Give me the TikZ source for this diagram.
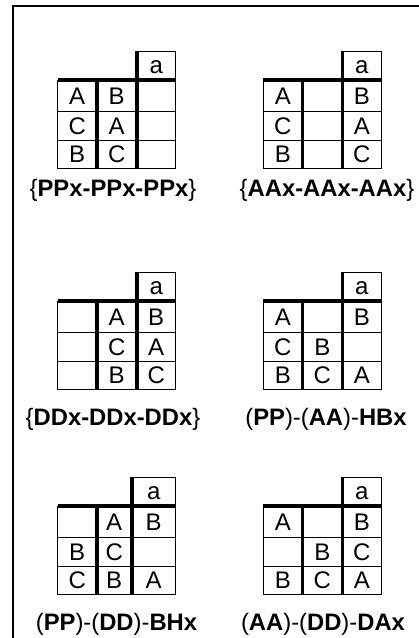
\documentclass[tikz,border=0pt]{standalone}
\usepackage{fontspec}
\setmainfont{Liberation Sans}
\tikzset{
  thinln/.style={line width=1pt},
  thickln/.style={line width=3.6pt},
  cell/.style={anchor=base,inner sep=0pt,font=\fontsize{24}{28}\selectfont},
  lab/.style={anchor=base,inner sep=0pt,font=\fontsize{23.8}{28}\selectfont},
}
% #1 name, #2 x0, #3 y0, #4 col2/col3 boundary offset, #5 list row/col/text
\newcommand\drawtab[5]{%
  \begin{scope}[shift={(#2,#3)}]
    \draw[thinln] (#4,0) rectangle (118,29);
    \draw[thinln] (0,29) rectangle (118,117.5);
    \draw[thinln] (0,60) -- (118,60) (0,89) -- (118,89);
    \draw[thickln] (0,29) -- (118,29);
    \draw[thickln] (39,29) -- (39,117.5);
    \draw[thickln] (#4,0) -- (#4,117.5);
    \node[cell] (#1-a) at ({(#4+118)/2},22.6) {a};
    \foreach \r/\c/\t in {#5}{
      \pgfmathsetmacro{\cx}{\c==1 ? 19.5 : (\c==2 ? (39+#4)/2 : (#4+118)/2)}
      \pgfmathsetmacro{\cy}{\r==1 ? 44.5 : (\r==2 ? 74.5 : 103.25)}
      \node[cell] (#1-\r-\c) at (\cx,\cy+8.6) {\t};
    }
  \end{scope}}
\begin{document}
\begin{tikzpicture}[x=1pt,y=-1pt]
\useasboundingbox (0,0) rectangle (419,638);
\draw[line width=2pt] (13,638) -- (13,5.5) -- (419,5.5);
% row 1
\drawtab{t1}{57.7}{51}{79}{1/1/A,1/2/B,2/1/C,2/2/A,3/1/B,3/2/C}
\drawtab{t2}{263.3}{51}{79}{1/1/A,1/3/B,2/1/C,2/3/A,3/1/B,3/3/C}
\node[lab] (l1) at (113,196.5) {\{\textbf{PPx-PPx-PPx}\}};
\node[lab] (l2) at (327,196.5) {\{\textbf{AAx-AAx-AAx}\}};
% row 2
\drawtab{t3}{57.7}{272}{79}{1/2/A,1/3/B,2/2/C,2/3/A,3/2/B,3/3/C}
\drawtab{t4}{263.3}{272}{79}{1/1/A,1/3/B,2/1/C,2/2/B,3/1/B,3/2/C,3/3/A}
\node[lab] (l3) at (113,425) {\{\textbf{DDx-DDx-DDx}\}};
\node[lab] (l4) at (326,425) {(\textbf{PP})-(\textbf{AA})-\textbf{HBx}};
% row 3
\drawtab{t5}{57.7}{477}{74}{1/2/A,1/3/B,2/1/B,2/2/C,3/1/C,3/2/B,3/3/A}
\drawtab{t6}{263.3}{477}{79}{1/1/A,1/3/B,2/2/B,2/3/C,3/1/B,3/2/C,3/3/A}
\node[lab] (l5) at (116.5,630) {(\textbf{PP})-(\textbf{DD})-\textbf{BHx}};
\node[lab] (l6) at (323,630) {(\textbf{AA})-(\textbf{DD})-\textbf{DAx}};
\end{tikzpicture}
\end{document}
